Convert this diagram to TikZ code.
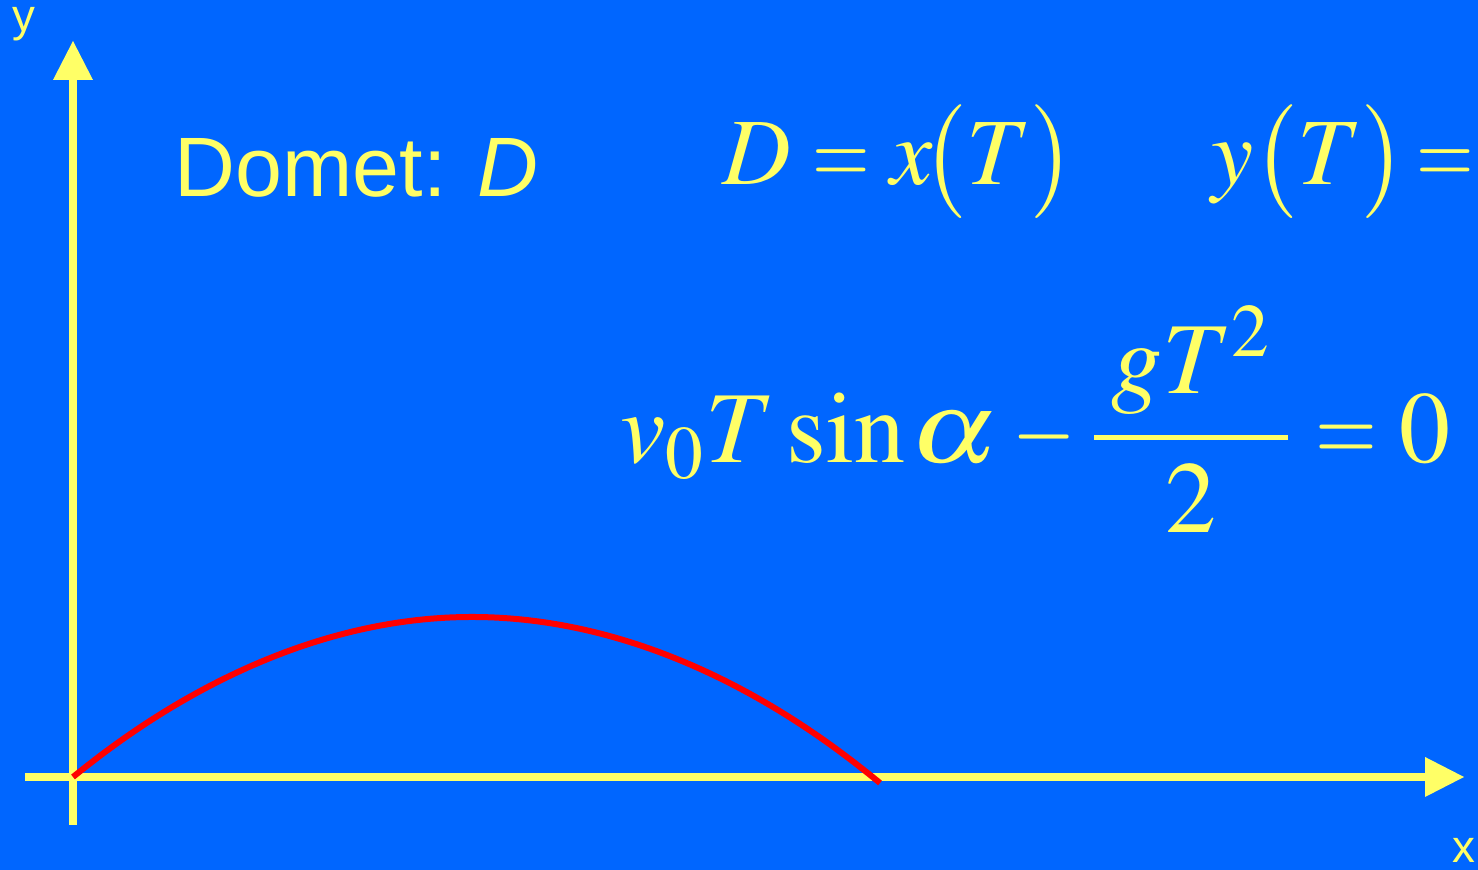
\documentclass[tikz,border=0pt]{standalone}
\usepackage{mathptmx}
\usepackage[no-math]{fontspec}
\newfontfamily\arial{Liberation Sans}
\usepackage{graphicx}
\usepackage{tikz}
\usetikzlibrary{arrows.meta}
\usepackage{xcolor}
\definecolor{Sky}{HTML}{0066FF}
\definecolor{Lemon}{HTML}{FFFF66}
\definecolor{Scarlet}{HTML}{FF0000}
% narrower relation and minus signs
\newcommand{\eqsign}{\mathrel{\scalebox{0.78}[1]{$=$}}}
\newcommand{\minsign}{\mathbin{\scalebox{0.8}[1]{$-$}}}

\begin{document}
\begin{tikzpicture}[
  axisline/.style={draw=Lemon,line width=0.08cm,
                   -{Triangle[length=0.39cm,width=0.40cm,line width=0pt]}},
  axislabel/.style={text=Lemon,inner sep=0pt,anchor=base,
                    font=\arial\fontsize{13pt}{15pt}\selectfont},
  formula/.style={text=Lemon,inner sep=0pt,anchor=base west},
  trajectory/.style={draw=Scarlet,line width=0.06cm}
]
  \useasboundingbox (0,0) rectangle (14.78,8.70);
  \fill[Sky] (0,0) rectangle (14.78,8.70);
  % axes
  \coordinate (O) at (0.73,0.93);
  \coordinate (ybot) at (0.73,0.45);
  \coordinate (ytop) at (0.73,8.29);
  \coordinate (xleft) at (0.25,0.93);
  \coordinate (xright) at (14.64,0.93);
  \draw[axisline] (ybot) -- (ytop);
  \draw[axisline] (xleft) -- (xright);
  \node[axislabel] (ylab) at (0.24,8.38) {y};
  \node[axislabel] (xlab) at (14.64,0.07) {x};
  % trajectory
  \coordinate (apex) at (4.72,2.53);
  \coordinate (land) at (8.80,0.87);
  \draw[trajectory] (O) parabola bend (apex) (land);
  % texts
  \node[formula,font=\arial\fontsize{24pt}{29pt}\selectfont] (domet) at (1.74,6.73) {Domet: \textit{D}};
  \node[formula,font=\fontsize{27pt}{32pt}\selectfont] (range) at (7.22,6.85)
    {$D\eqsign x\mskip-2mu\bigl(T\bigr)$};
  \node[formula,font=\fontsize{27pt}{32pt}\selectfont] (height) at (12.11,6.85)
    {$y\bigl(T\bigr)\mskip-2mu\eqsign$};
  \node[formula,font=\fontsize{29pt}{35pt}\selectfont] (zero) at (6.20,4.07)
    {$\displaystyle v_0T\sin\mskip-1mu\scalebox{1.2}[1]{$\alpha$}\minsign
      \frac{\mskip3mu gT^2\mskip3mu}{2}\eqsign0$};
\end{tikzpicture}
\end{document}
